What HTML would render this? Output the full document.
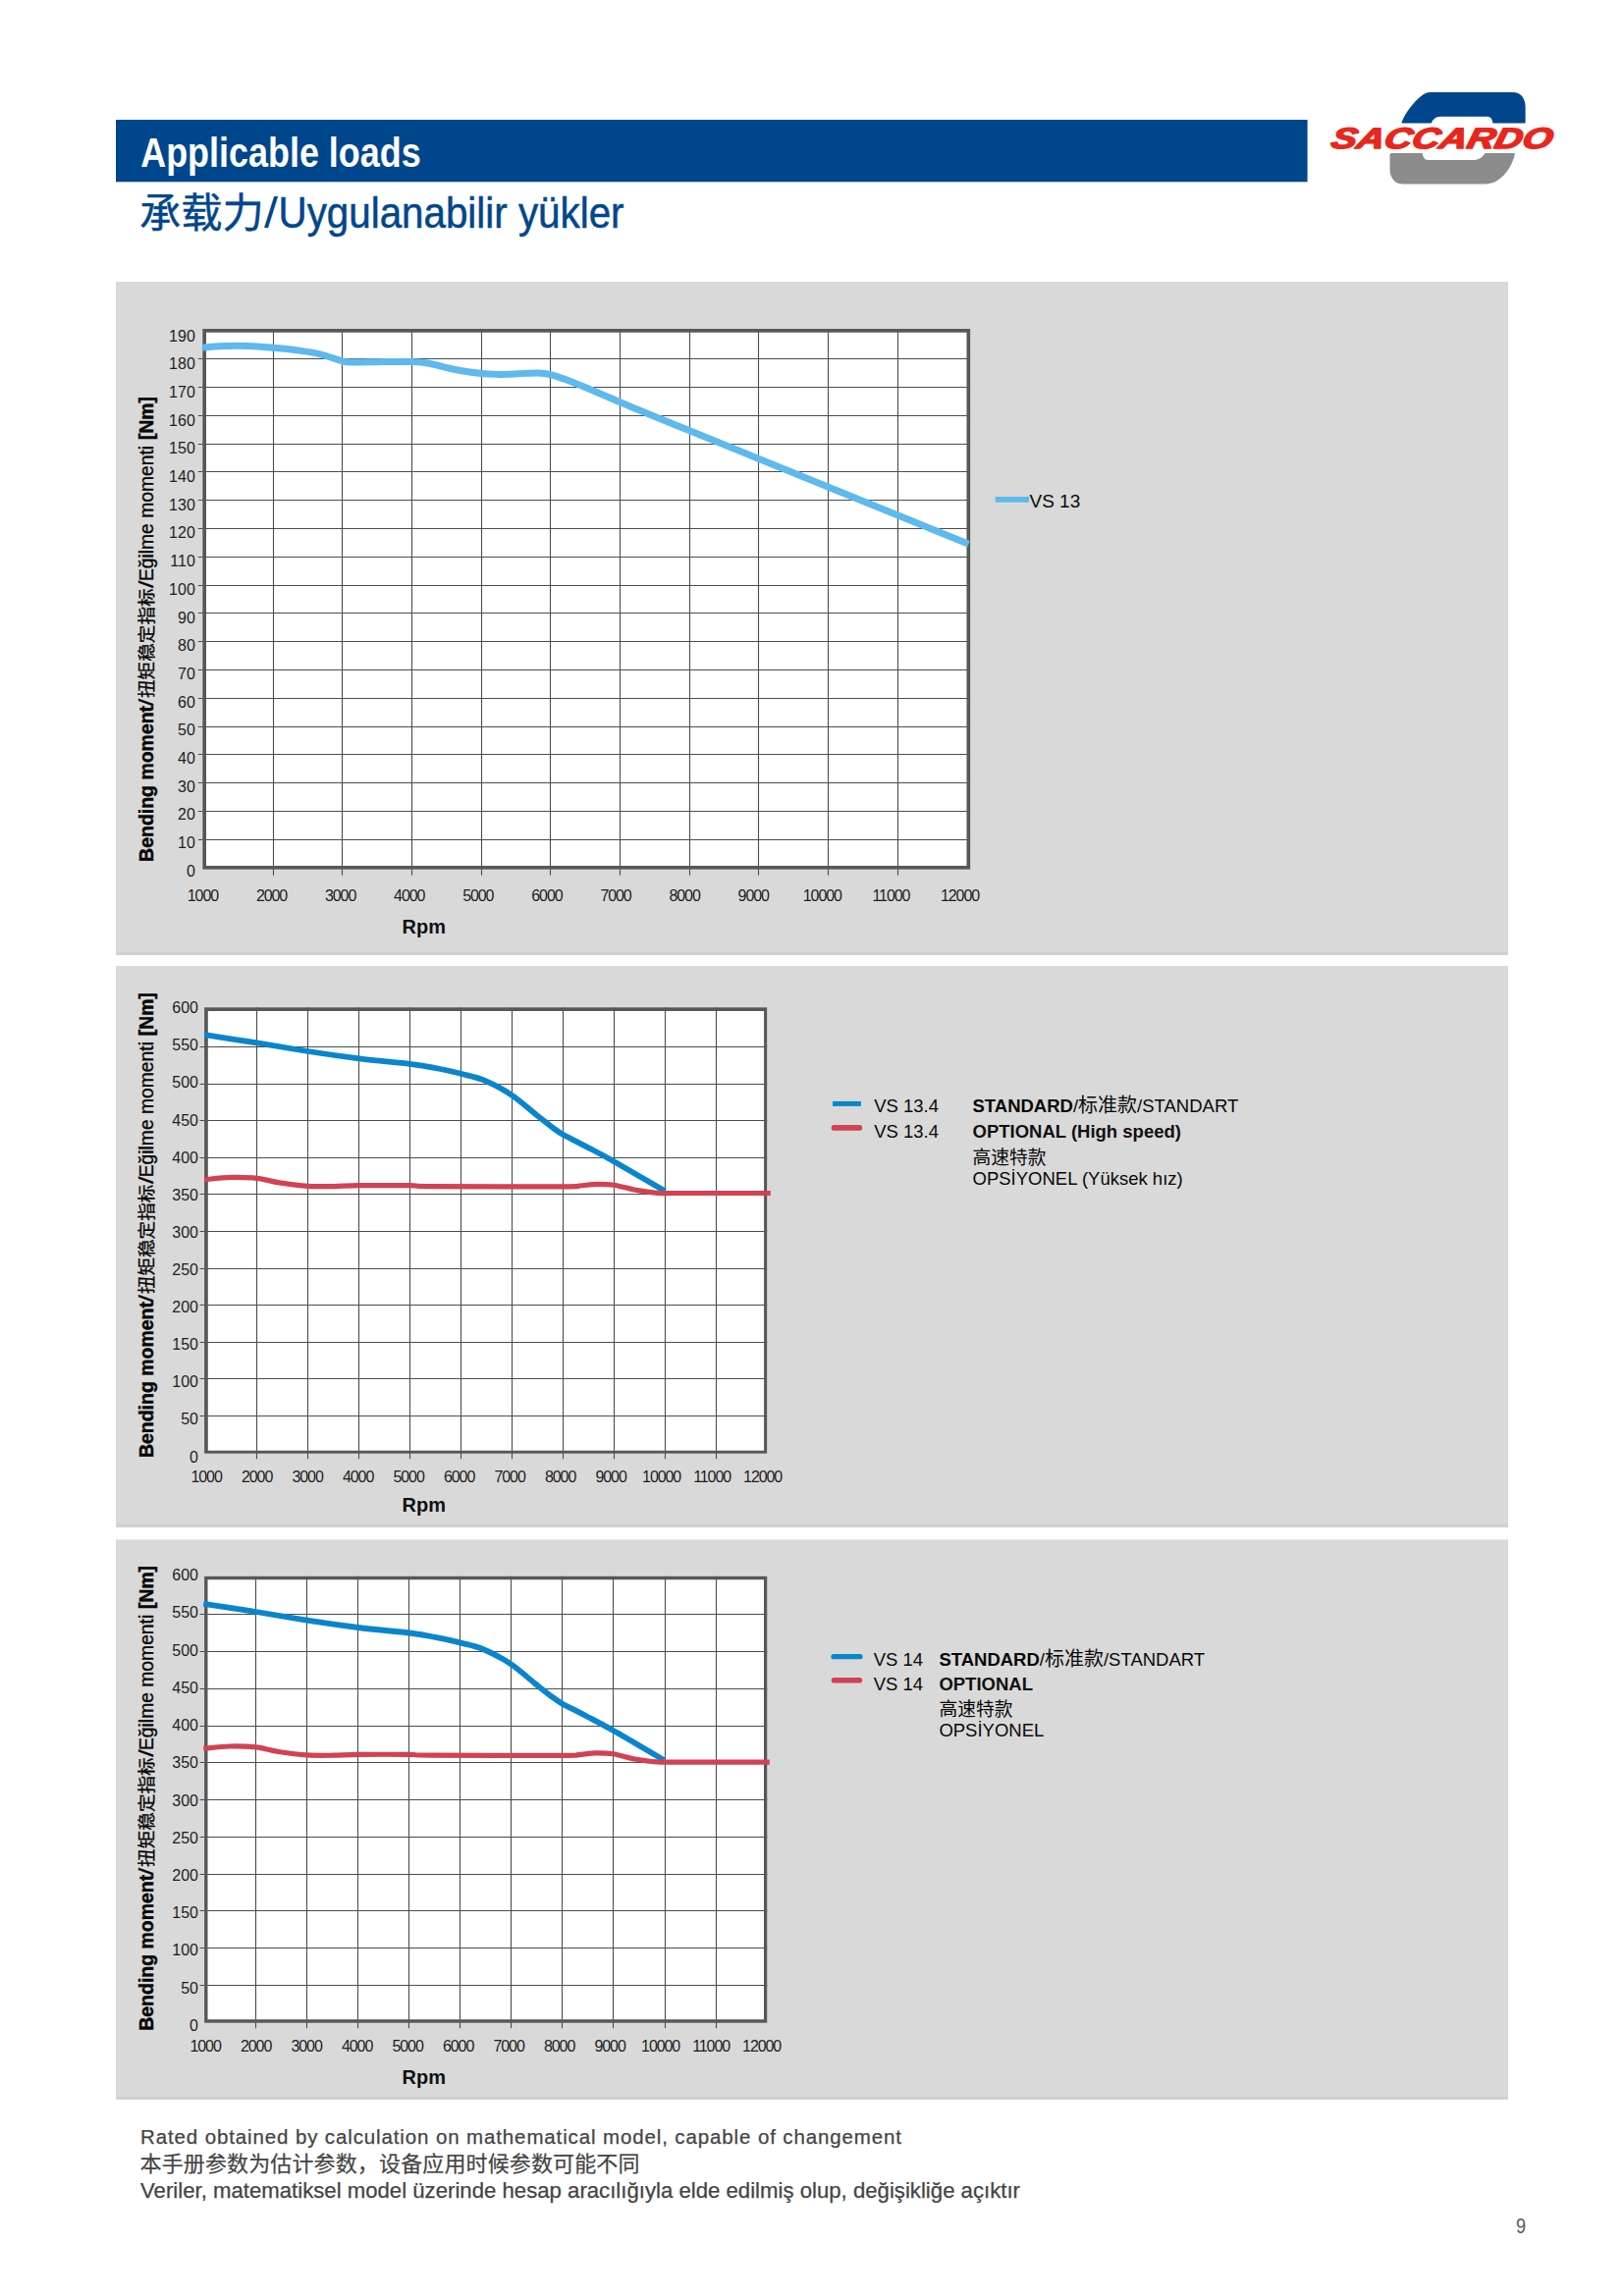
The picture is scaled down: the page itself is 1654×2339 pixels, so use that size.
<!DOCTYPE html>
<html lang="en"><head><meta charset="utf-8"><title>Applicable loads</title>
<style>html,body{margin:0;padding:0;background:#fff}svg{display:block}text{font-family:"Liberation Sans","Noto Sans CJK SC",sans-serif}</style>
</head><body>
<svg width="1654" height="2339" viewBox="0 0 1654 2339">
<rect x="118" y="122" width="1213.6" height="63.3" fill="#00468c"/>
<text x="143.2" y="170.3" font-size="43" font-weight="bold" fill="#fff" textLength="285.5" lengthAdjust="spacingAndGlyphs">Applicable loads</text>
<text x="142" y="232.4" font-size="42.3" fill="#00468c" stroke="#00468c" stroke-width="0.4">承载力</text>
<text x="269" y="232.4" font-size="44" fill="#00468c" textLength="14" lengthAdjust="spacingAndGlyphs">/</text>
<text x="283.5" y="232.4" font-size="44" fill="#00468c" stroke="#00468c" stroke-width="0.5" textLength="352" lengthAdjust="spacingAndGlyphs">Uygulanabilir yükler</text>
<g id="logo">
<path d="M1427.4 125.6 C1428.6 118.6 1445 93.9 1456.5 93.9 H1541 C1548.5 93.9 1553.6 99.5 1553.6 109 V125.6 H1520.4 C1520 121.5 1518.2 118.7 1515.1 118.7 H1467 C1462.5 118.7 1459 121.5 1457.8 125.6 Z" fill="#00468c"/>
<path d="M1415.5 158 Q1415.5 156 1417.5 156 H1448.7 C1449.2 160 1451 163 1454.4 163 H1500.5 C1505.5 163 1510 160.5 1512.5 156 H1542.9 C1541.8 166 1531 187.4 1513 187.4 H1428.3 C1420 187.4 1415.5 180 1415.5 172.2 Z" fill="#8c8c8c"/>
<g transform="translate(1354.2 151.3) skewX(-13)"><text x="0" y="0" font-size="29.6" font-weight="bold" font-style="italic" fill="#e8271c" stroke="#e8271c" stroke-width="1.5" stroke-linejoin="round" textLength="225" lengthAdjust="spacingAndGlyphs">SACCARDO</text></g>
</g>
<rect x="118" y="287" width="1418" height="686" fill="#d9d9d9"/>
<rect x="118" y="984" width="1418" height="571.9" fill="#d9d9d9"/>
<rect x="118" y="1568.4" width="1418" height="570.4" fill="#d9d9d9"/>
<rect x="118.6" y="969.8" width="1417.4" height="3.2" fill="#d1d1d1"/>
<rect x="118.6" y="1552.7" width="1417.4" height="3.2" fill="#d1d1d1"/>
<rect x="118.6" y="2135.6" width="1417.4" height="3.2" fill="#d1d1d1"/>
<rect x="206.3" y="335.0" width="781.9000000000001" height="550.7" fill="#fff"/>
<path d="M278.5 335.0V891.7M348.5 335.0V891.7M419.5 335.0V891.7M490.5 335.0V891.7M560.5 335.0V891.7M631.5 335.0V891.7M702.5 335.0V891.7M772.5 335.0V891.7M843.5 335.0V891.7M914.5 335.0V891.7M201.8 855.5H988.2M201.8 826.5H988.2M201.8 797.5H988.2M201.8 768.5H988.2M201.8 740.5H988.2M201.8 711.5H988.2M201.8 682.5H988.2M201.8 653.5H988.2M201.8 624.5H988.2M201.8 596.5H988.2M201.8 567.5H988.2M201.8 538.5H988.2M201.8 509.5H988.2M201.8 480.5H988.2M201.8 452.5H988.2M201.8 423.5H988.2M201.8 394.5H988.2M201.8 365.5H988.2" stroke="#4c4c4c" stroke-width="1.1" fill="none"/>
<rect x="208.15" y="336.85" width="778.2" height="547.0" fill="none" stroke="#575757" stroke-width="3.7"/>
<path d="M206.3 353.9C210.4 353.7 223.1 352.7 230.8 352.5C238.5 352.3 244.4 352.2 252.3 352.5C260.2 352.8 269.8 353.5 278.5 354.3C287.2 355.1 296.8 356.0 304.7 357.1C312.6 358.2 318.9 359.0 326.2 360.8C333.5 362.6 343.1 366.5 348.7 367.9C354.3 369.3 353.0 369.0 360.0 369.1C367.0 369.2 381.0 368.7 390.9 368.6C400.8 368.5 411.8 368.2 419.5 368.5C427.2 368.8 429.4 368.9 437.0 370.3C444.6 371.7 455.9 375.1 464.8 376.8C473.7 378.5 483.1 379.7 490.3 380.5C497.5 381.3 501.9 381.3 507.9 381.4C513.9 381.4 519.7 381.1 526.4 380.8C533.1 380.6 542.2 379.8 547.9 379.9C553.6 380.0 554.6 380.0 560.8 381.7C567.0 383.4 573.2 385.4 584.9 390.0C596.6 394.6 611.8 401.4 631.0 409.4C650.2 417.4 640.8 413.7 700.0 437.8C759.2 461.9 938.8 534.8 986.5 554.2" stroke="#5eb9ec" stroke-width="7" fill="none" stroke-linejoin="round"/>
<text x="198.8" y="892.6" font-size="16" font-weight="normal" fill="#1e1e1e" text-anchor="end" >0</text>
<text x="198.8" y="863.9" font-size="16" font-weight="normal" fill="#1e1e1e" text-anchor="end" >10</text>
<text x="198.8" y="835.2" font-size="16" font-weight="normal" fill="#1e1e1e" text-anchor="end" >20</text>
<text x="198.8" y="806.6" font-size="16" font-weight="normal" fill="#1e1e1e" text-anchor="end" >30</text>
<text x="198.8" y="777.9" font-size="16" font-weight="normal" fill="#1e1e1e" text-anchor="end" >40</text>
<text x="198.8" y="749.2" font-size="16" font-weight="normal" fill="#1e1e1e" text-anchor="end" >50</text>
<text x="198.8" y="720.5" font-size="16" font-weight="normal" fill="#1e1e1e" text-anchor="end" >60</text>
<text x="198.8" y="691.8" font-size="16" font-weight="normal" fill="#1e1e1e" text-anchor="end" >70</text>
<text x="198.8" y="663.2" font-size="16" font-weight="normal" fill="#1e1e1e" text-anchor="end" >80</text>
<text x="198.8" y="634.5" font-size="16" font-weight="normal" fill="#1e1e1e" text-anchor="end" >90</text>
<text x="198.8" y="605.8" font-size="16" font-weight="normal" fill="#1e1e1e" text-anchor="end" >100</text>
<text x="198.8" y="577.1" font-size="16" font-weight="normal" fill="#1e1e1e" text-anchor="end" >110</text>
<text x="198.8" y="548.4" font-size="16" font-weight="normal" fill="#1e1e1e" text-anchor="end" >120</text>
<text x="198.8" y="519.8" font-size="16" font-weight="normal" fill="#1e1e1e" text-anchor="end" >130</text>
<text x="198.8" y="491.1" font-size="16" font-weight="normal" fill="#1e1e1e" text-anchor="end" >140</text>
<text x="198.8" y="462.4" font-size="16" font-weight="normal" fill="#1e1e1e" text-anchor="end" >150</text>
<text x="198.8" y="433.7" font-size="16" font-weight="normal" fill="#1e1e1e" text-anchor="end" >160</text>
<text x="198.8" y="405.0" font-size="16" font-weight="normal" fill="#1e1e1e" text-anchor="end" >170</text>
<text x="198.8" y="376.4" font-size="16" font-weight="normal" fill="#1e1e1e" text-anchor="end" >180</text>
<text x="198.8" y="347.7" font-size="16" font-weight="normal" fill="#1e1e1e" text-anchor="end" >190</text>
<text x="206.4" y="917.8" font-size="16" font-weight="normal" fill="#1e1e1e" text-anchor="middle" letter-spacing="-1.1">1000</text>
<text x="276.5" y="917.8" font-size="16" font-weight="normal" fill="#1e1e1e" text-anchor="middle" letter-spacing="-1.1">2000</text>
<text x="346.6" y="917.8" font-size="16" font-weight="normal" fill="#1e1e1e" text-anchor="middle" letter-spacing="-1.1">3000</text>
<text x="416.7" y="917.8" font-size="16" font-weight="normal" fill="#1e1e1e" text-anchor="middle" letter-spacing="-1.1">4000</text>
<text x="486.8" y="917.8" font-size="16" font-weight="normal" fill="#1e1e1e" text-anchor="middle" letter-spacing="-1.1">5000</text>
<text x="556.9" y="917.8" font-size="16" font-weight="normal" fill="#1e1e1e" text-anchor="middle" letter-spacing="-1.1">6000</text>
<text x="627.0" y="917.8" font-size="16" font-weight="normal" fill="#1e1e1e" text-anchor="middle" letter-spacing="-1.1">7000</text>
<text x="697.1" y="917.8" font-size="16" font-weight="normal" fill="#1e1e1e" text-anchor="middle" letter-spacing="-1.1">8000</text>
<text x="767.2" y="917.8" font-size="16" font-weight="normal" fill="#1e1e1e" text-anchor="middle" letter-spacing="-1.1">9000</text>
<text x="837.3" y="917.8" font-size="16" font-weight="normal" fill="#1e1e1e" text-anchor="middle" letter-spacing="-1.1">10000</text>
<text x="907.4" y="917.8" font-size="16" font-weight="normal" fill="#1e1e1e" text-anchor="middle" letter-spacing="-1.1">11000</text>
<text x="977.5" y="917.8" font-size="16" font-weight="normal" fill="#1e1e1e" text-anchor="middle" letter-spacing="-1.1">12000</text>
<text x="409.5" y="951.3" font-size="20" font-weight="bold" fill="#111" text-anchor="start" >Rpm</text>
<g transform="translate(156.0 876.5) rotate(-90)" fill="#080808" stroke="#080808" font-size="19.3"><text x="-1.4" y="0" font-weight="bold" stroke-width="0.45" textLength="159" lengthAdjust="spacingAndGlyphs">Bending moment</text><text x="157.2" y="0" stroke-width="0.3" textLength="7.6" lengthAdjust="spacingAndGlyphs">/</text><text x="165.5" y="-0.3" font-size="18.6" stroke-width="0.3">扭矩稳定指标</text><text x="277.6" y="0" stroke-width="0.3" textLength="7.6" lengthAdjust="spacingAndGlyphs">/</text><text x="284.4" y="0" stroke-width="0.35">Eğilme momenti</text><text x="428.5" y="0" font-weight="bold" stroke-width="0.45">[Nm]</text></g>
<path d="M1013.8 508.9H1048" stroke="#5eb9ec" stroke-width="5.8"/>
<text x="1048.5" y="517.4" font-size="19" font-weight="normal" fill="#080808" text-anchor="start" >VS 13</text>
<rect x="208.1" y="1026.2" width="573.1" height="454.5999999999999" fill="#fff"/>
<path d="M261.5 1026.2V1486.3M313.5 1026.2V1486.3M365.5 1026.2V1486.3M417.5 1026.2V1486.3M469.5 1026.2V1486.3M521.5 1026.2V1486.3M573.5 1026.2V1486.3M625.5 1026.2V1486.3M677.5 1026.2V1486.3M729.5 1026.2V1486.3M203.6 1442.5H781.2M203.6 1404.5H781.2M203.6 1367.5H781.2M203.6 1329.5H781.2M203.6 1292.5H781.2M203.6 1254.5H781.2M203.6 1216.5H781.2M203.6 1179.5H781.2M203.6 1141.5H781.2M203.6 1104.5H781.2M203.6 1066.5H781.2" stroke="#4c4c4c" stroke-width="1.1" fill="none"/>
<path d="M208.1 1026.2H781.2V1480.8H208.1Z M211.79999999999998 1029.9V1477.8H778.1V1029.9Z" fill="#575757" fill-rule="evenodd"/>
<path d="M208.3 1054.2C217.2 1055.6 244.0 1059.6 261.6 1062.4C279.2 1065.2 296.4 1068.3 313.7 1071.0C331.0 1073.7 348.4 1076.2 365.7 1078.4C383.0 1080.6 404.5 1082.3 417.4 1083.9C430.3 1085.5 434.3 1086.3 443.0 1088.0C451.7 1089.7 461.0 1091.6 469.5 1093.8C478.0 1096.0 485.3 1097.2 494.0 1100.9C502.7 1104.6 512.8 1110.0 521.5 1115.8C530.2 1121.6 539.2 1130.2 546.3 1135.8C553.4 1141.4 559.5 1146.3 564.0 1149.6C568.5 1152.9 570.0 1153.8 573.3 1155.8C576.6 1157.8 579.5 1159.0 584.0 1161.3C588.5 1163.6 593.1 1165.9 600.0 1169.6C606.9 1173.2 612.4 1175.9 625.3 1183.2C638.2 1190.5 668.6 1208.5 677.3 1213.5" stroke="#0986cb" stroke-width="5.8" fill="none" stroke-linejoin="round"/>
<path d="M208.3 1201.7C212.8 1201.3 226.6 1199.6 235.5 1199.4C244.4 1199.2 253.4 1199.4 261.6 1200.3C269.8 1201.2 276.0 1203.6 284.7 1204.9C293.4 1206.2 304.5 1207.7 313.7 1208.3C322.9 1208.9 331.3 1208.7 340.0 1208.6C348.7 1208.5 352.8 1207.8 365.7 1207.7C378.6 1207.6 405.0 1207.6 417.4 1207.7C429.8 1207.8 414.0 1208.4 440.0 1208.6C466.0 1208.8 548.3 1208.9 573.3 1208.8C598.3 1208.7 584.2 1208.4 590.0 1208.0C595.8 1207.6 601.9 1206.4 607.8 1206.3C613.7 1206.2 618.6 1206.2 625.3 1207.2C632.0 1208.2 640.5 1211.1 647.8 1212.4C655.1 1213.8 662.3 1214.8 669.3 1215.3C676.3 1215.8 670.8 1215.5 690.0 1215.5C709.2 1215.5 769.0 1215.5 784.8 1215.5" stroke="#d14252" stroke-width="5.2" fill="none" stroke-linejoin="round"/>
<text x="202.0" y="1489.5" font-size="16" font-weight="normal" fill="#1e1e1e" text-anchor="end" >0</text>
<text x="202.0" y="1451.4" font-size="16" font-weight="normal" fill="#1e1e1e" text-anchor="end" >50</text>
<text x="202.0" y="1413.3" font-size="16" font-weight="normal" fill="#1e1e1e" text-anchor="end" >100</text>
<text x="202.0" y="1375.2" font-size="16" font-weight="normal" fill="#1e1e1e" text-anchor="end" >150</text>
<text x="202.0" y="1337.1" font-size="16" font-weight="normal" fill="#1e1e1e" text-anchor="end" >200</text>
<text x="202.0" y="1299.0" font-size="16" font-weight="normal" fill="#1e1e1e" text-anchor="end" >250</text>
<text x="202.0" y="1260.8" font-size="16" font-weight="normal" fill="#1e1e1e" text-anchor="end" >300</text>
<text x="202.0" y="1222.7" font-size="16" font-weight="normal" fill="#1e1e1e" text-anchor="end" >350</text>
<text x="202.0" y="1184.6" font-size="16" font-weight="normal" fill="#1e1e1e" text-anchor="end" >400</text>
<text x="202.0" y="1146.5" font-size="16" font-weight="normal" fill="#1e1e1e" text-anchor="end" >450</text>
<text x="202.0" y="1108.4" font-size="16" font-weight="normal" fill="#1e1e1e" text-anchor="end" >500</text>
<text x="202.0" y="1070.3" font-size="16" font-weight="normal" fill="#1e1e1e" text-anchor="end" >550</text>
<text x="202.0" y="1032.2" font-size="16" font-weight="normal" fill="#1e1e1e" text-anchor="end" >600</text>
<text x="210.1" y="1509.9" font-size="16" font-weight="normal" fill="#1e1e1e" text-anchor="middle" letter-spacing="-1.1">1000</text>
<text x="261.6" y="1509.9" font-size="16" font-weight="normal" fill="#1e1e1e" text-anchor="middle" letter-spacing="-1.1">2000</text>
<text x="313.1" y="1509.9" font-size="16" font-weight="normal" fill="#1e1e1e" text-anchor="middle" letter-spacing="-1.1">3000</text>
<text x="364.6" y="1509.9" font-size="16" font-weight="normal" fill="#1e1e1e" text-anchor="middle" letter-spacing="-1.1">4000</text>
<text x="416.1" y="1509.9" font-size="16" font-weight="normal" fill="#1e1e1e" text-anchor="middle" letter-spacing="-1.1">5000</text>
<text x="467.6" y="1509.9" font-size="16" font-weight="normal" fill="#1e1e1e" text-anchor="middle" letter-spacing="-1.1">6000</text>
<text x="519.1" y="1509.9" font-size="16" font-weight="normal" fill="#1e1e1e" text-anchor="middle" letter-spacing="-1.1">7000</text>
<text x="570.6" y="1509.9" font-size="16" font-weight="normal" fill="#1e1e1e" text-anchor="middle" letter-spacing="-1.1">8000</text>
<text x="622.1" y="1509.9" font-size="16" font-weight="normal" fill="#1e1e1e" text-anchor="middle" letter-spacing="-1.1">9000</text>
<text x="673.6" y="1509.9" font-size="16" font-weight="normal" fill="#1e1e1e" text-anchor="middle" letter-spacing="-1.1">10000</text>
<text x="725.1" y="1509.9" font-size="16" font-weight="normal" fill="#1e1e1e" text-anchor="middle" letter-spacing="-1.1">11000</text>
<text x="776.6" y="1509.9" font-size="16" font-weight="normal" fill="#1e1e1e" text-anchor="middle" letter-spacing="-1.1">12000</text>
<text x="409.5" y="1540.1" font-size="20" font-weight="bold" fill="#111" text-anchor="start" >Rpm</text>
<g transform="translate(156.0 1483.7) rotate(-90)" fill="#080808" stroke="#080808" font-size="19.3"><text x="-1.4" y="0" font-weight="bold" stroke-width="0.45" textLength="159" lengthAdjust="spacingAndGlyphs">Bending moment</text><text x="157.2" y="0" stroke-width="0.3" textLength="7.6" lengthAdjust="spacingAndGlyphs">/</text><text x="165.5" y="-0.3" font-size="18.6" stroke-width="0.3">扭矩稳定指标</text><text x="277.6" y="0" stroke-width="0.3" textLength="7.6" lengthAdjust="spacingAndGlyphs">/</text><text x="284.4" y="0" stroke-width="0.35">Eğilme momenti</text><text x="428.5" y="0" font-weight="bold" stroke-width="0.45">[Nm]</text></g>
<path d="M848 1124.4H876.9" stroke="#0986cb" stroke-width="5"/>
<path d="M849.5 1148.9H875.4" stroke="#d14252" stroke-width="5.6" stroke-linecap="round"/>
<text x="890.2" y="1133.2" font-size="18.5" font-weight="normal" fill="#080808" text-anchor="start" >VS 13.4</text>
<text x="890.2" y="1159" font-size="18.5" font-weight="normal" fill="#080808" text-anchor="start" >VS 13.4</text>
<text x="990.5" y="1133.2" font-size="18.5" fill="#080808"><tspan font-weight="bold">STANDARD</tspan>/<tspan font-size="20">标准款</tspan>/STANDART</text>
<text x="990.5" y="1159" font-size="18.5" font-weight="bold" fill="#111" text-anchor="start" >OPTIONAL (High speed)</text>
<text x="990.5" y="1185.6" font-size="18.8" font-weight="normal" fill="#080808" text-anchor="start" >高速特款</text>
<text x="990.5" y="1206.7" font-size="18.5" font-weight="normal" fill="#080808" text-anchor="start" >OPSİYONEL (Yüksek hız)</text>
<rect x="208.1" y="1605.7" width="573.1999999999999" height="455.10000000000014" fill="#fff"/>
<path d="M260.5 1605.7V2066.3M312.5 1605.7V2066.3M364.5 1605.7V2066.3M416.5 1605.7V2066.3M468.5 1605.7V2066.3M520.5 1605.7V2066.3M572.5 1605.7V2066.3M624.5 1605.7V2066.3M677.5 1605.7V2066.3M729.5 1605.7V2066.3M203.6 2022.5H781.3M203.6 1984.5H781.3M203.6 1946.5H781.3M203.6 1909.5H781.3M203.6 1871.5H781.3M203.6 1833.5H781.3M203.6 1795.5H781.3M203.6 1758.5H781.3M203.6 1720.5H781.3M203.6 1682.5H781.3M203.6 1644.5H781.3" stroke="#4c4c4c" stroke-width="1.1" fill="none"/>
<path d="M208.1 1605.7H781.3V2060.8H208.1Z M211.5 1609.3V2057.2000000000003H778.0V1609.3Z" fill="#575757" fill-rule="evenodd"/>
<path d="M207.3 1633.8C216.2 1635.2 243.0 1639.2 260.6 1642.0C278.2 1644.8 295.4 1647.9 312.7 1650.6C330.0 1653.3 347.4 1655.8 364.7 1658.0C382.0 1660.2 403.5 1661.9 416.4 1663.5C429.3 1665.1 433.3 1665.9 442.0 1667.6C450.7 1669.2 460.0 1671.2 468.5 1673.4C477.0 1675.6 484.3 1676.8 493.0 1680.5C501.7 1684.2 511.8 1689.6 520.5 1695.4C529.2 1701.2 538.2 1709.8 545.3 1715.4C552.4 1721.0 558.5 1725.9 563.0 1729.2C567.5 1732.5 569.0 1733.5 572.3 1735.4C575.6 1737.4 578.5 1738.6 583.0 1740.9C587.5 1743.2 592.1 1745.5 599.0 1749.2C605.9 1752.8 611.4 1755.5 624.3 1762.8C637.2 1770.1 667.6 1788.0 676.3 1793.1" stroke="#0986cb" stroke-width="5.8" fill="none" stroke-linejoin="round"/>
<path d="M207.3 1781.3C211.8 1780.9 225.6 1779.2 234.5 1779.0C243.4 1778.8 252.4 1779.0 260.6 1779.9C268.8 1780.8 275.0 1783.2 283.7 1784.5C292.4 1785.8 303.5 1787.3 312.7 1787.9C321.9 1788.5 330.3 1788.3 339.0 1788.2C347.7 1788.1 351.8 1787.5 364.7 1787.3C377.6 1787.2 404.0 1787.2 416.4 1787.3C428.8 1787.5 413.0 1788.0 439.0 1788.2C465.0 1788.4 547.3 1788.5 572.3 1788.4C597.3 1788.3 583.2 1788.0 589.0 1787.6C594.8 1787.2 600.9 1786.0 606.8 1785.9C612.7 1785.8 617.6 1785.8 624.3 1786.8C631.0 1787.8 639.5 1790.7 646.8 1792.0C654.1 1793.3 661.3 1794.4 668.3 1794.9C675.3 1795.4 669.8 1795.1 689.0 1795.1C708.2 1795.1 768.0 1795.1 783.8 1795.1" stroke="#d14252" stroke-width="5.2" fill="none" stroke-linejoin="round"/>
<text x="202.0" y="2068.8" font-size="16" font-weight="normal" fill="#1e1e1e" text-anchor="end" >0</text>
<text x="202.0" y="2030.6" font-size="16" font-weight="normal" fill="#1e1e1e" text-anchor="end" >50</text>
<text x="202.0" y="1992.4" font-size="16" font-weight="normal" fill="#1e1e1e" text-anchor="end" >100</text>
<text x="202.0" y="1954.1" font-size="16" font-weight="normal" fill="#1e1e1e" text-anchor="end" >150</text>
<text x="202.0" y="1915.9" font-size="16" font-weight="normal" fill="#1e1e1e" text-anchor="end" >200</text>
<text x="202.0" y="1877.7" font-size="16" font-weight="normal" fill="#1e1e1e" text-anchor="end" >250</text>
<text x="202.0" y="1839.5" font-size="16" font-weight="normal" fill="#1e1e1e" text-anchor="end" >300</text>
<text x="202.0" y="1801.2" font-size="16" font-weight="normal" fill="#1e1e1e" text-anchor="end" >350</text>
<text x="202.0" y="1763.0" font-size="16" font-weight="normal" fill="#1e1e1e" text-anchor="end" >400</text>
<text x="202.0" y="1724.8" font-size="16" font-weight="normal" fill="#1e1e1e" text-anchor="end" >450</text>
<text x="202.0" y="1686.6" font-size="16" font-weight="normal" fill="#1e1e1e" text-anchor="end" >500</text>
<text x="202.0" y="1648.3" font-size="16" font-weight="normal" fill="#1e1e1e" text-anchor="end" >550</text>
<text x="202.0" y="1610.1" font-size="16" font-weight="normal" fill="#1e1e1e" text-anchor="end" >600</text>
<text x="209.1" y="2089.9" font-size="16" font-weight="normal" fill="#1e1e1e" text-anchor="middle" letter-spacing="-1.1">1000</text>
<text x="260.6" y="2089.9" font-size="16" font-weight="normal" fill="#1e1e1e" text-anchor="middle" letter-spacing="-1.1">2000</text>
<text x="312.1" y="2089.9" font-size="16" font-weight="normal" fill="#1e1e1e" text-anchor="middle" letter-spacing="-1.1">3000</text>
<text x="363.6" y="2089.9" font-size="16" font-weight="normal" fill="#1e1e1e" text-anchor="middle" letter-spacing="-1.1">4000</text>
<text x="415.1" y="2089.9" font-size="16" font-weight="normal" fill="#1e1e1e" text-anchor="middle" letter-spacing="-1.1">5000</text>
<text x="466.6" y="2089.9" font-size="16" font-weight="normal" fill="#1e1e1e" text-anchor="middle" letter-spacing="-1.1">6000</text>
<text x="518.1" y="2089.9" font-size="16" font-weight="normal" fill="#1e1e1e" text-anchor="middle" letter-spacing="-1.1">7000</text>
<text x="569.6" y="2089.9" font-size="16" font-weight="normal" fill="#1e1e1e" text-anchor="middle" letter-spacing="-1.1">8000</text>
<text x="621.1" y="2089.9" font-size="16" font-weight="normal" fill="#1e1e1e" text-anchor="middle" letter-spacing="-1.1">9000</text>
<text x="672.6" y="2089.9" font-size="16" font-weight="normal" fill="#1e1e1e" text-anchor="middle" letter-spacing="-1.1">10000</text>
<text x="724.1" y="2089.9" font-size="16" font-weight="normal" fill="#1e1e1e" text-anchor="middle" letter-spacing="-1.1">11000</text>
<text x="775.6" y="2089.9" font-size="16" font-weight="normal" fill="#1e1e1e" text-anchor="middle" letter-spacing="-1.1">12000</text>
<text x="409.5" y="2122.6" font-size="20" font-weight="bold" fill="#111" text-anchor="start" >Rpm</text>
<g transform="translate(156.0 2067.4) rotate(-90)" fill="#080808" stroke="#080808" font-size="19.3"><text x="-1.4" y="0" font-weight="bold" stroke-width="0.45" textLength="159" lengthAdjust="spacingAndGlyphs">Bending moment</text><text x="157.2" y="0" stroke-width="0.3" textLength="7.6" lengthAdjust="spacingAndGlyphs">/</text><text x="165.5" y="-0.3" font-size="18.6" stroke-width="0.3">扭矩稳定指标</text><text x="277.6" y="0" stroke-width="0.3" textLength="7.6" lengthAdjust="spacingAndGlyphs">/</text><text x="284.4" y="0" stroke-width="0.35">Eğilme momenti</text><text x="428.5" y="0" font-weight="bold" stroke-width="0.45">[Nm]</text></g>
<path d="M849 1687.7H876" stroke="#0986cb" stroke-width="5.3" stroke-linecap="round"/>
<path d="M849.5 1711.8H875.4" stroke="#d14252" stroke-width="5.6" stroke-linecap="round"/>
<text x="889.7" y="1697.4" font-size="18.5" font-weight="normal" fill="#080808" text-anchor="start" >VS 14</text>
<text x="889.7" y="1722.3" font-size="18.5" font-weight="normal" fill="#080808" text-anchor="start" >VS 14</text>
<text x="956.4" y="1697.4" font-size="18.5" fill="#080808"><tspan font-weight="bold">STANDARD</tspan>/<tspan font-size="20">标准款</tspan>/STANDART</text>
<text x="956.4" y="1722.3" font-size="18.5" font-weight="bold" fill="#111" text-anchor="start" >OPTIONAL</text>
<text x="956.4" y="1748.4" font-size="18.8" font-weight="normal" fill="#080808" text-anchor="start" >高速特款</text>
<text x="956.4" y="1769.4" font-size="18.5" font-weight="normal" fill="#080808" text-anchor="start" >OPSİYONEL</text>
<text x="143" y="2183.8" font-size="20.5" fill="#444" stroke="#444" stroke-width="0.25" textLength="775" lengthAdjust="spacing">Rated obtained by calculation on mathematical model, capable of changement</text>
<text x="142.5" y="2212" font-size="22" fill="#444" stroke="#444" stroke-width="0.2" textLength="509" lengthAdjust="spacing">本手册参数为估计参数，设备应用时候参数可能不同</text>
<text x="143" y="2238.6" font-size="21.5" fill="#444" stroke="#444" stroke-width="0.25" textLength="896" lengthAdjust="spacingAndGlyphs">Veriler, matematiksel model üzerinde hesap aracılığıyla elde edilmiş olup, değişikliğe açıktır</text>
<text x="1544" y="2275" font-size="22.5" fill="#5a5a5a" textLength="10" lengthAdjust="spacingAndGlyphs">9</text>
</svg>
</body></html>
